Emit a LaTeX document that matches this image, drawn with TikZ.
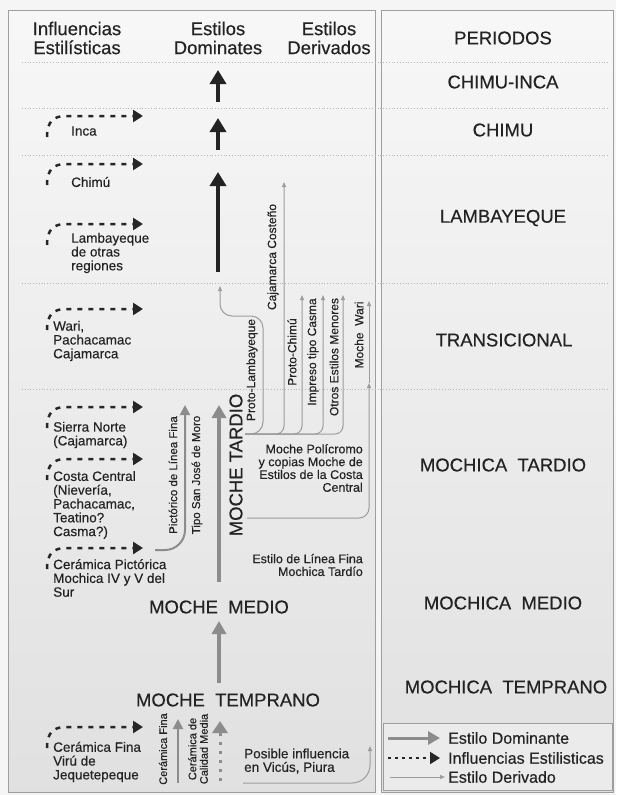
\documentclass[tikz,border=0pt]{standalone}
\usepackage{fontspec}
\setmainfont{Liberation Sans}[FakeBold=0.35]
\usetikzlibrary{arrows.meta, positioning}

\definecolor{txt}{HTML}{232323}
\definecolor{domgray}{HTML}{8C8C8C}
\definecolor{dergray}{HTML}{9C9C9C}
\definecolor{sepgray}{HTML}{B8B8B8}
\definecolor{framegray}{HTML}{9E9E9E}

\tikzset{
  hdr/.style={text=txt, align=center, inner sep=0, font=\fontsize{18.5}{19}\selectfont},
  period/.style={text=txt, inner sep=0, font=\fontsize{18.5}{19}\selectfont},
  lefttxt/.style={text=txt, align=left, anchor=west, inner sep=0, font=\fontsize{13.5}{13.8}\selectfont},
  smalltxt/.style={text=txt, align=right, anchor=east, inner sep=0, font=\fontsize{12.5}{12.8}\selectfont},
  rottxt/.style={text=txt, rotate=90, inner sep=0, font=\fontsize{12}{12}\selectfont},
  legtxt/.style={text=txt, anchor=west, inner sep=0, font=\fontsize{16}{16}\selectfont},
  infl/.style={draw=black!85, line width=2.5pt, dash pattern=on 5pt off 6pt, -{Triangle[length=10pt, width=12pt]}},
  darkup/.style={draw=txt, line width=3.5pt, -{Triangle[length=14pt, width=16pt]}},
  grayup/.style={draw=domgray, line width=3.5pt, -{Triangle[length=13pt, width=14pt]}},
  midup/.style={draw=domgray, line width=2pt, -{Triangle[length=10pt, width=10pt]}},
  derived/.style={draw=dergray, line width=1pt, -{Triangle[length=5pt, width=4pt]}},
  sepline/.style={draw=sepgray, line width=0.8pt, dotted},
}

\begin{document}
\begin{tikzpicture}[x=1pt, y=-1pt]
    \useasboundingbox (0,0) rectangle (616,795);
    \fill[black!4] (0,0) rectangle (616,795);

    % panels %
      \shade[top color=black!3, bottom color=black!12] (8,10) rectangle (375,792);
      \shade[top color=black!3, bottom color=black!12] (381,10) rectangle (613,792);
      \draw[framegray, line width=1pt] (8,10) rectangle (375,792);
      \draw[framegray, line width=1pt] (381,10) rectangle (613,792);
      \foreach \y in {62, 108, 155, 283, 389}
        \draw[sepline] (22,\y) -- (610,\y);

    % headers %
      \node[hdr] (influencias) at (77,38) {Influencias\\Estilísticas};
      \node[hdr] (dominates) at (218,38) {Estilos\\Dominates};
      \node[hdr] (derivados) at (329,38) {Estilos\\Derivados};
      \node[period] (periodos) at (503,38) {PERIODOS};

    % periods %
      \node[period] (chimuinca) at (503,82) {CHIMU-INCA};
      \node[period] (chimu) at (503,130) {CHIMU};
      \node[period] (lambayeque) at (503,218) {LAMBAYEQUE};
      \node[period] (transicional) at (504,340) {TRANSICIONAL};
      \node[period] (mtardio) at (503,465) {MOCHICA~~TARDIO};
      \node[period] (mmedio) at (503,603) {MOCHICA~~MEDIO};
      \node[period] (mtemprano) at (506,687) {MOCHICA~~TEMPRANO};

    % influences %
      \node[lefttxt] (inca) at (71,131) {Inca};
      \node[lefttxt] (chimuinf) at (71,182) {Chimú};
      \node[lefttxt] (lambinf) at (71,253) {Lambayeque\\de otras\\regiones};
      \node[lefttxt] (wari) at (53,341) {Wari,\\Pachacamac\\Cajamarca};
      \node[lefttxt] (sierra) at (53,435) {Sierra Norte\\(Cajamarca)};
      \node[lefttxt] (costa) at (53,505) {Costa Central\\(Nievería,\\Pachacamac,\\Teatino?\\Casma?)};
      \node[lefttxt] (pictorica) at (53,578) {Cerámica Pictórica\\Mochica IV y V del\\Sur};
      \node[lefttxt] (viru) at (53,762) {Cerámica Fina\\Virú de\\Jequetepeque};

      \foreach \n/\y in {i1/116, i2/164, i3/224, i4/309, i5/407, i6/459, i7/548, i8/727} {
        \coordinate (\n a) at (47,\y+21);
        \coordinate (\n b) at (143,\y);
        \draw[infl] (\n a) .. controls (47,\y+5) and (54,\y) .. (66,\y) -- (\n b);
      }

    % dominant styles %
      \node[period] (mochetemprano) at (228,700) {MOCHE~~TEMPRANO};
      \node[period] (mochemedio) at (219,607) {MOCHE~~MEDIO};
      \node[period, rotate=90] (mochetardio) at (236,465) {MOCHE TARDIO};

      \coordinate (ci0) at (218,102);  \coordinate (ci1) at (218,70);
      \coordinate (ch0) at (218,150);  \coordinate (ch1) at (218,118);
      \coordinate (la0) at (218,272);  \coordinate (la1) at (218,172);
      \coordinate (ta0) at (219,582);  \coordinate (ta1) at (219,405);
      \coordinate (me0) at (219,683);  \coordinate (me1) at (219,621);

      \draw[darkup] (ci0) -- (ci1);
      \draw[darkup] (ch0) -- (ch1);
      \draw[darkup] (la0) -- (la1);
      \draw[grayup] (ta0) -- (ta1);
      \draw[grayup] (me0) -- (me1);

    % early styles %
      \node[rottxt, font=\fontsize{11}{11}\selectfont] (cfina) at (163,749) {Cerámica Fina};
      \node[rottxt, align=center, font=\fontsize{11}{11.5}\selectfont] (cmedia) at (198,749) {Cerámica de\\Calidad Media};
      \coordinate (cf0) at (178,783);  \coordinate (cf1) at (178,719);
      \coordinate (cm0) at (220,781);  \coordinate (cm1) at (220,721);
      \draw[midup] (cf0) -- (cf1);
      \draw[draw=domgray, line width=3pt, dash pattern=on 3pt off 6pt, -{Triangle[length=12pt, width=15pt]}] (cm0) -- (cm1);

      \node[lefttxt, font=\fontsize{13.5}{13.5}\selectfont] (vicus) at (244,761) {Posible influencia\\en Vicús, Piura};
      \coordinate (vi0) at (243,783);  \coordinate (vi1) at (370,746);
      \draw[derived, rounded corners=18pt] (vi0) -| (vi1);

    % late derived styles %
      \node[rottxt, font=\fontsize{11.5}{11.5}\selectfont] (pictorico) at (173,475) {Pictórico de Línea Fina};
      \node[rottxt, font=\fontsize{11.5}{11.5}\selectfont] (sanjose) at (197,475) {Tipo San José de Moro};
      \coordinate (pf0) at (155,550);  \coordinate (pf1) at (185,405);
      \draw[midup, rounded corners=20pt] (pf0) -| (pf1);

      \node[rottxt] (protolamb) at (252,370) {Proto-Lambayeque};
      \node[rottxt] (cajcost) at (273,257) {Cajamarca Costeño};
      \node[rottxt] (protochimu) at (292,352) {Proto-Chimú};
      \node[rottxt] (impreso) at (313,352) {Impreso tipo Casma};
      \node[rottxt] (otros) at (334,357) {Otros Estilos Menores};
      \node[rottxt] (mochewari) at (359,335) {Moche~~Wari};

      \coordinate (dbase) at (245,434);
      \coordinate (plamb) at (220,286);
      \coordinate (ccost) at (284,182);
      \coordinate (pchimu) at (302,295);
      \coordinate (casma) at (323,295);
      \coordinate (menores) at (343,295);
      \draw[derived, rounded corners=12pt] (dbase) -| (263,316) -| (plamb);
      \draw[derived, rounded corners=8pt] (dbase) -| (ccost);
      \draw[derived, rounded corners=8pt] (dbase) -| (pchimu);
      \draw[derived, rounded corners=8pt] (dbase) -| (casma);
      \draw[derived, rounded corners=8pt] (dbase) -| (menores);

      \node[smalltxt] (policromo) at (363,468) {Moche Polícromo\\y copias Moche de\\Estilos de la Costa\\Central};
      \node[smalltxt] (lineafina) at (363,565) {Estilo de Línea Fina\\Mochica Tardío};
      \coordinate (pbase) at (247,518);
      \coordinate (mw0) at (369,383);
      \coordinate (mw1) at (369,301);
      \draw[derived, rounded corners=10pt] (pbase) -| (mw0);
      \draw[derived] (mw0) -- (mw1);

    % legend %
      \draw[framegray, fill=black!8, line width=1pt] (383,723) rectangle (612,790);
      \coordinate (l1a) at (388,738);  \coordinate (l1b) at (440,738);
      \coordinate (l2a) at (388,758);  \coordinate (l2b) at (440,758);
      \coordinate (l3a) at (390,777);  \coordinate (l3b) at (445,777);
      \draw[grayup, line width=3pt, -{Triangle[length=12pt, width=13pt]}] (l1a) -- (l1b);
      \draw[infl, line width=2pt, dash pattern=on 3pt off 4pt] (l2a) -- (l2b);
      \draw[derived] (l3a) -- (l3b);
      \node[legtxt, right=8pt of l1b] (leg1) {Estilo Dominante};
      \node[legtxt, right=8pt of l2b] (leg2) {Influencias Estilisticas};
      \node[legtxt, right=3pt of l3b] (leg3) {Estilo Derivado};
\end{tikzpicture}
\end{document}
